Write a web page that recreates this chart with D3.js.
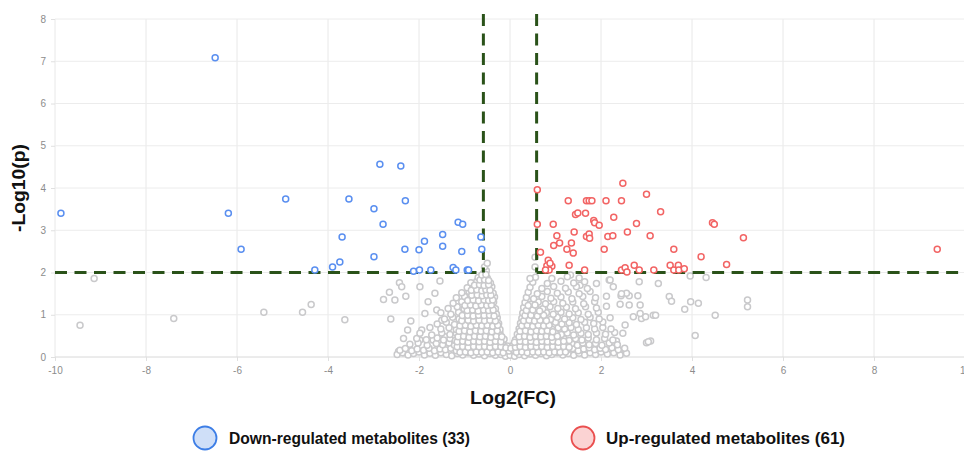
<!DOCTYPE html>
<html>
<head>
<meta charset="UTF-8">
<title>Volcano plot</title>
<script src="https://d3js.org/d3.v7.min.js"></script>
<style>
  body { margin: 0; background: #fff; }
  text { font-family: "Liberation Sans", Arial, sans-serif; }
</style>
</head>
<body>
<svg id="chart"></svg>
<script>
// ---- data ----
const xTicks = [-10, -8, -6, -4, -2, 0, 2, 4, 6, 8, 10];
const yTicks = [0, 1, 2, 3, 4, 5, 6, 7, 8];
const fcCut = 0.585;   // |log2(1.5)|
const pCut = 2;

const legendLabels = ["Down-regulated metabolites (33)", "Up-regulated metabolites (61)"];

// down-regulated (blue)
const downPts = [
  [-9.87,3.40],[-6.48,7.08],[-6.19,3.40],[-5.91,2.55],[-4.93,3.74],[-4.29,2.06],[-3.90,2.13],
  [-3.74,2.25],[-3.69,2.84],[-3.54,3.74],[-2.99,3.51],[-2.86,4.56],[-2.79,3.14],[-2.99,2.37],
  [-2.40,4.52],[-2.30,3.70],[-2.31,2.55],[-2.12,2.03],[-1.99,2.06],[-2.00,2.54],[-1.88,2.74],
  [-1.74,2.06],[-1.48,2.90],[-1.48,2.62],[-1.25,2.12],[-1.19,2.06],[-1.14,3.19],[-1.04,3.14],
  [-1.06,2.50],[-0.94,2.06],[-0.91,2.06],[-0.64,2.84],[-0.62,2.55]
];

// up-regulated (red)
const upPts = [
  [0.60,3.96],[0.60,3.14],[0.67,2.48],[0.84,2.29],[0.81,2.16],[0.92,2.15],[0.86,2.06],[0.78,2.06],
  [0.88,2.22],[0.95,3.14],[1.03,2.87],[0.96,2.64],[1.09,2.70],[1.28,3.70],[1.25,2.55],[1.30,2.17],
  [1.35,2.70],[1.39,2.46],[1.41,2.96],[1.44,3.37],[1.49,3.41],[1.64,2.06],[1.66,3.40],[1.68,3.70],
  [1.74,3.70],[1.80,3.70],[1.68,2.85],[1.74,2.91],[1.75,2.81],[1.84,3.23],[1.86,3.18],[1.96,3.12],
  [2.07,2.55],[2.11,3.70],[2.15,2.85],[2.26,2.87],[2.28,3.31],[2.45,3.70],[2.48,4.11],[2.45,2.06],
  [2.53,2.11],[2.57,2.01],[2.58,2.96],[2.73,2.17],[2.78,3.16],[2.84,2.06],[3.00,3.85],[3.08,2.87],
  [3.16,2.06],[3.31,3.44],[3.52,2.17],[3.60,2.55],[3.60,2.06],[3.70,2.17],[3.71,2.06],[3.83,2.09],
  [4.20,2.37],[4.45,3.18],[4.49,3.14],[4.76,2.19],[5.13,2.82],[9.39,2.55]
];

// not significant (grey)
const nsPts = [
  [-9.45,0.75],[-9.14,1.86],[-7.39,0.91],[-5.41,1.06],[-4.56,1.06],[-4.37,1.24],[-3.63,0.88],
  [-2.78,1.36],[-2.65,1.53],[-2.53,1.35],[-2.43,1.76],[-2.38,1.66],[-2.29,1.44],[-2.62,0.90],
  [-2.18,0.85],[-2.25,0.64],[-2.34,0.44],[-1.98,1.66],[-1.80,1.31],[-1.87,1.03],[-1.94,0.64],
  [-1.98,0.40],[-1.54,1.80],[-1.65,1.51],[-1.61,1.11],[-1.50,0.87],[-1.69,0.40],[-1.43,0.48],
  [-2.45,0.13],[-2.34,0.10],
  [2.18,1.82],[2.27,1.66],[2.84,1.78],[3.26,1.74],[3.50,1.43],[3.55,1.32],[3.84,1.13],[3.97,1.31],
  [4.14,1.27],[3.96,1.92],[4.31,1.88],[4.51,0.99],[4.07,0.51],[5.22,1.35],[5.22,1.19],[2.86,1.23],
  [2.62,1.23],[2.42,1.25],[2.71,0.95],[2.89,0.91],[2.98,0.95],[3.15,0.99],[3.20,0.99],[3.00,0.34],
  [3.09,0.38],[2.86,1.03],[2.53,0.76],[2.48,0.56],[2.34,0.38],[2.40,0.13],[2.62,1.45],[2.44,1.45],
  [2.81,1.45],[2.56,1.51],[1.33,1.94],[1.54,1.70],[1.90,1.74],[2.20,1.82],[2.45,1.50],[3.04,0.36],
  // bottom band
  [-2.48,0.06],[-2.36,0.10],[-2.24,0.05],[-2.12,0.08],[-2.00,0.12],[-1.88,0.05],[-1.76,0.09],[-1.64,0.04],
  [-1.52,0.10],[-1.40,0.06],[-1.28,0.03],[-1.16,0.08],[-1.04,0.05],[-0.92,0.10],[-0.80,0.04],[-0.68,0.07],
  [-0.56,0.03],[-0.44,0.08],[-0.32,0.04],[-0.20,0.06],[-0.10,0.02],[0.00,0.04],[0.10,0.02],[0.20,0.06],
  [0.32,0.03],[0.44,0.07],[0.56,0.04],[0.68,0.08],[0.80,0.03],[0.92,0.06],[1.04,0.10],[1.16,0.05],
  [1.28,0.08],[1.40,0.04],[1.52,0.09],[1.64,0.05],[1.76,0.10],[1.88,0.06],[2.00,0.12],[2.14,0.07],
  [2.28,0.10],[2.42,0.05],[2.56,0.09],
  [-2.42,0.16],[-2.30,0.20],[-2.16,0.15],[-2.04,0.19],[-1.90,0.16],[-1.78,0.21],[-1.66,0.15],[-1.54,0.19],
  [-1.42,0.17],[-1.30,0.21],[-1.18,0.15],[-1.06,0.19],[-0.94,0.16],[-0.82,0.20],[-0.70,0.15],[-0.58,0.19],
  [-0.46,0.16],[-0.34,0.20],[-0.22,0.15],[-0.12,0.18],[-0.02,0.14],[0.08,0.16],[0.18,0.20],[0.30,0.15],
  [0.42,0.19],[0.54,0.16],[0.66,0.20],[0.78,0.15],[0.90,0.19],[1.02,0.16],[1.14,0.21],[1.26,0.17],
  [1.38,0.20],[1.50,0.15],[1.62,0.19],[1.74,0.22],[1.86,0.17],[1.98,0.21],[2.10,0.18],[2.24,0.22],
  [2.38,0.17],[2.52,0.21],
  [-2.20,0.30],[-2.02,0.33],[-1.82,0.28],[-1.62,0.32],[-1.48,0.29],[-1.34,0.33],[-1.22,0.28],[-1.10,0.31],
  [-0.98,0.27],[-0.86,0.32],[-0.74,0.28],[-0.62,0.31],[-0.50,0.27],[-0.38,0.32],[-0.26,0.28],[-0.15,0.30],
  [-0.06,0.26],[0.06,0.27],[0.16,0.31],[0.28,0.27],[0.40,0.32],[0.52,0.28],[0.64,0.31],[0.76,0.27],
  [0.88,0.32],[1.00,0.28],[1.12,0.31],[1.24,0.27],[1.36,0.32],[1.48,0.28],[1.60,0.33],[1.74,0.29],
  [1.88,0.32],[2.02,0.28],[2.18,0.33],[2.36,0.29],
  // middle body
  [-2.05,0.44],[-1.84,0.41],[-1.60,0.45],[-1.46,0.40],[-1.32,0.44],[-1.20,0.39],[-1.08,0.43],[-0.96,0.40],
  [-0.84,0.44],[-0.72,0.39],[-0.60,0.43],[-0.48,0.40],[-0.36,0.44],[-0.24,0.39],[-0.13,0.42],[0.12,0.41],
  [0.22,0.44],[0.34,0.39],[0.46,0.43],[0.58,0.40],[0.70,0.44],[0.82,0.39],[0.94,0.43],[1.06,0.40],
  [1.18,0.44],[1.30,0.39],[1.44,0.43],[1.58,0.40],[1.72,0.45],[1.90,0.41],[2.08,0.44],[2.26,0.40],
  [-1.98,0.56],[-1.72,0.52],[-1.50,0.57],[-1.32,0.53],[-1.18,0.56],[-1.06,0.52],[-0.94,0.57],[-0.82,0.53],
  [-0.70,0.56],[-0.58,0.52],[-0.46,0.57],[-0.34,0.53],[-0.22,0.56],[0.16,0.54],[0.28,0.57],[0.40,0.52],
  [0.52,0.56],[0.64,0.53],[0.76,0.57],[0.88,0.52],[1.00,0.56],[1.13,0.53],[1.26,0.57],[1.40,0.52],
  [1.56,0.56],[1.72,0.53],[1.90,0.57],[2.10,0.54],[2.30,0.58],
  [-1.76,0.70],[-1.52,0.66],[-1.34,0.69],[-1.18,0.65],[-1.04,0.70],[-0.92,0.66],[-0.80,0.69],[-0.68,0.65],
  [-0.56,0.70],[-0.44,0.66],[-0.32,0.69],[-0.22,0.65],[0.20,0.67],[0.32,0.70],[0.44,0.65],[0.56,0.69],
  [0.68,0.66],[0.80,0.70],[0.93,0.65],[1.06,0.69],[1.20,0.66],[1.34,0.70],[1.50,0.65],[1.68,0.69],
  [1.86,0.66],[2.04,0.70],[2.22,0.66],
  [-1.60,0.78],[-1.40,0.82],[-1.22,0.77],[-1.08,0.81],[-0.96,0.78],[-0.84,0.82],[-0.72,0.77],[-0.60,0.81],
  [-0.48,0.78],[-0.36,0.82],[-0.25,0.79],[0.23,0.80],[0.35,0.77],[0.47,0.82],[0.60,0.78],[0.73,0.81],
  [0.86,0.77],[1.00,0.82],[1.14,0.78],[1.30,0.81],[1.46,0.77],[1.64,0.82],[1.84,0.79],[2.04,0.83],
  [-1.44,0.90],[-1.26,0.94],[-1.12,0.90],[-0.99,0.93],[-0.87,0.89],[-0.75,0.94],[-0.63,0.90],[-0.51,0.93],
  [-0.39,0.89],[-0.28,0.93],[0.26,0.92],[0.38,0.89],[0.50,0.94],[0.62,0.90],[0.75,0.93],[0.89,0.89],
  [1.04,0.94],[1.20,0.90],[1.38,0.93],[1.56,0.89],[1.76,0.94],[1.96,0.90],[2.20,0.93],
  [-1.52,1.05],[-1.30,1.01],[-1.13,1.06],[-0.99,1.02],[-0.87,1.06],[-0.75,1.01],[-0.63,1.05],[-0.51,1.02],
  [-0.40,1.06],[-0.30,1.02],[0.28,1.04],[0.40,1.01],[0.53,1.06],[0.66,1.02],[0.80,1.05],[0.95,1.01],
  [1.12,1.06],[1.30,1.02],[1.50,1.05],[1.72,1.01],[1.94,1.06],
  // upper body
  [-1.36,1.15],[-1.16,1.19],[-1.01,1.14],[-0.89,1.18],[-0.77,1.14],[-0.65,1.19],[-0.53,1.15],[-0.42,1.18],
  [-0.32,1.14],[0.30,1.17],[0.43,1.13],[0.57,1.18],[0.72,1.14],[0.88,1.19],[1.05,1.15],[1.24,1.18],
  [1.44,1.14],[1.66,1.19],[1.90,1.16],[2.12,1.20],
  [-1.25,1.27],[-1.06,1.31],[-0.93,1.26],[-0.81,1.30],[-0.69,1.26],[-0.57,1.31],[-0.46,1.27],[-0.36,1.30],
  [0.33,1.29],[0.46,1.25],[0.62,1.30],[0.78,1.26],[0.96,1.31],[1.16,1.27],[1.38,1.30],[1.62,1.26],[1.86,1.31],
  [-1.18,1.40],[-1.00,1.43],[-0.87,1.38],[-0.75,1.42],[-0.63,1.38],[-0.52,1.43],[-0.42,1.39],[-0.34,1.42],
  [0.36,1.41],[0.52,1.38],[0.70,1.43],[0.90,1.39],[1.12,1.42],[1.36,1.38],[1.60,1.43],[1.88,1.40],[2.12,1.44],
  [-1.06,1.52],[-0.90,1.55],[-0.78,1.51],[-0.66,1.55],[-0.56,1.50],[-0.46,1.54],[-0.37,1.51],[0.40,1.53],
  [0.60,1.50],[0.82,1.55],[1.04,1.51],[1.28,1.54],[1.52,1.50],[1.76,1.55],
  [-0.94,1.64],[-0.80,1.67],[-0.68,1.63],[-0.58,1.67],[-0.48,1.62],[-0.40,1.66],[0.44,1.65],[0.70,1.62],
  [0.96,1.67],[1.22,1.63],[1.46,1.66],[1.70,1.62],
  [-0.86,1.76],[-0.73,1.79],[-0.62,1.75],[-0.52,1.79],[-0.43,1.75],[0.50,1.77],[0.82,1.74],[1.12,1.79],
  [1.40,1.75],[1.64,1.78],
  [-0.70,1.88],[-0.60,1.91],[-0.50,1.87],[0.56,1.89],[0.92,1.86],[1.26,1.90],[1.52,1.87],
  [-0.58,1.98],[-0.52,2.04],[-0.56,2.13],[-0.50,2.22],[0.55,2.13],[0.55,2.36],[0.44,1.86],
  // densest core (in between the rows above)
  [-1.10,0.11],[-0.98,0.12],[-0.86,0.10],[-0.74,0.12],[-0.62,0.11],[-0.50,0.12],[-0.38,0.10],[-0.26,0.12],
  [-0.15,0.10],[0.14,0.11],[0.26,0.12],[0.38,0.10],[0.50,0.12],[0.62,0.11],[0.74,0.12],[0.86,0.10],
  [0.98,0.12],[1.10,0.11],[1.22,0.12],
  [-1.16,0.24],[-1.04,0.25],[-0.92,0.23],[-0.80,0.25],[-0.68,0.24],[-0.56,0.25],[-0.44,0.23],[-0.32,0.25],
  [-0.20,0.24],[-0.09,0.22],[0.02,0.21],[0.12,0.23],[0.22,0.25],[0.34,0.23],[0.46,0.25],[0.58,0.24],
  [0.70,0.25],[0.82,0.23],[0.94,0.25],[1.06,0.24],[1.18,0.25],[1.30,0.23],
  [-1.16,0.36],[-1.04,0.37],[-0.92,0.35],[-0.80,0.37],[-0.68,0.36],[-0.56,0.37],[-0.44,0.35],[-0.32,0.37],
  [-0.20,0.36],[0.10,0.35],[0.22,0.37],[0.34,0.36],[0.46,0.37],[0.58,0.35],[0.70,0.37],[0.82,0.36],
  [0.94,0.37],[1.06,0.35],[1.18,0.37],
  [-1.14,0.48],[-1.02,0.49],[-0.90,0.47],[-0.78,0.49],[-0.66,0.48],[-0.54,0.49],[-0.42,0.47],[-0.30,0.49],
  [-0.18,0.48],[0.20,0.48],[0.32,0.49],[0.44,0.47],[0.56,0.49],[0.68,0.48],[0.80,0.49],[0.92,0.47],[1.04,0.49],
  [-1.12,0.61],[-1.00,0.62],[-0.88,0.60],[-0.76,0.62],[-0.64,0.61],[-0.52,0.62],[-0.40,0.60],[-0.28,0.62],
  [0.22,0.61],[0.34,0.62],[0.46,0.60],[0.58,0.62],[0.70,0.61],[0.82,0.62],[0.94,0.60],
  [-1.10,0.74],[-0.98,0.75],[-0.86,0.73],[-0.74,0.75],[-0.62,0.74],[-0.50,0.75],[-0.38,0.73],[-0.27,0.75],
  [0.26,0.74],[0.38,0.75],[0.50,0.73],[0.62,0.75],[0.74,0.74],[0.86,0.75],
  [-1.06,0.86],[-0.92,0.87],[-0.80,0.85],[-0.68,0.87],[-0.56,0.86],[-0.44,0.87],[-0.32,0.85],
  [0.30,0.86],[0.42,0.87],[0.54,0.85],[0.66,0.87],[0.80,0.86],
  [-1.05,0.98],[-0.93,0.99],[-0.81,0.97],[-0.69,0.99],[-0.57,0.98],[-0.45,0.99],[-0.35,0.97],
  [0.33,0.98],[0.46,0.99],[0.60,0.97],[0.74,0.99],
  [-0.94,1.10],[-0.82,1.11],[-0.70,1.09],[-0.58,1.11],[-0.47,1.10],[-0.37,1.11],[0.36,1.10],[0.50,1.11],[0.65,1.09],
  [-0.99,1.22],[-0.87,1.23],[-0.75,1.21],[-0.63,1.23],[-0.51,1.22],[-0.41,1.23],[0.40,1.22],[0.55,1.23],
  [-0.93,1.34],[-0.81,1.35],[-0.69,1.33],[-0.57,1.35],[-0.47,1.34],[-0.38,1.35],
  [-0.84,1.46],[-0.72,1.47],[-0.61,1.45],[-0.51,1.47],[-0.42,1.46],
  [-0.85,1.58],[-0.73,1.59],[-0.62,1.57],[-0.53,1.59],[-0.44,1.58],
  [-0.78,1.70],[-0.67,1.71],[-0.57,1.69],[-0.47,1.71],
  [-0.66,1.82],[-0.56,1.83],[-0.47,1.81],
  [-0.62,1.94],[-0.53,1.95]
];

// ---- layout ----
const W = 964, H = 458;
const svg = d3.select("#chart").attr("width", W).attr("height", H);

const x = d3.scaleLinear().domain([-10, 10]).range([55, 965]);
const y = d3.scaleLinear().domain([0, 8]).range([357, 19]);

// grid
svg.append("g").selectAll("line").data(xTicks).join("line")
  .attr("x1", d => x(d)).attr("x2", d => x(d))
  .attr("y1", y(8)).attr("y2", y(0))
  .attr("stroke", "#e8e8e8").attr("stroke-width", 1);
svg.append("g").selectAll("line").data(yTicks).join("line")
  .attr("x1", x(-10)).attr("x2", x(10))
  .attr("y1", d => y(d)).attr("y2", d => y(d))
  .attr("stroke", d => d === 0 ? "#d8d8d8" : "#ececec").attr("stroke-width", 1);

// axes (labels only, light ticks); plain hyphen for negatives like the source
const xAxis = svg.append("g")
  .attr("transform", `translate(0, ${y(0)})`)
  .call(d3.axisBottom(x).tickValues(xTicks).tickFormat(d => String(d)).tickSize(4).tickPadding(6));
const yAxis = svg.append("g")
  .attr("transform", `translate(${x(-10)}, 0)`)
  .call(d3.axisLeft(y).tickValues(yTicks).tickFormat(d => String(d)).tickSize(4).tickPadding(5));
[xAxis, yAxis].forEach(a => {
  a.select(".domain").remove();
  a.selectAll(".tick line").attr("stroke", "#e0e0e0");
  a.selectAll(".tick text").attr("fill", "#8c8c8c").attr("font-size", "10px")
    .attr("font-family", "Liberation Sans, Arial, sans-serif");
});

const dot = (g, data, color) => g.selectAll("circle").data(data).join("circle")
  .attr("cx", d => x(d[0])).attr("cy", d => y(d[1]))
  .attr("r", 3).attr("fill", "#fff")
  .attr("stroke", color).attr("stroke-width", 1.5);

dot(svg.append("g"), nsPts, "#c9c9cb");

// threshold lines
const thr = svg.append("g").attr("stroke", "#2a5219").attr("stroke-width", 3)
  .attr("stroke-dasharray", "12,7.5").attr("fill", "none");
thr.append("line").attr("x1", x(-10)).attr("x2", x(-fcCut)).attr("y1", y(pCut)).attr("y2", y(pCut));
thr.append("line").attr("x1", x(fcCut)).attr("x2", x(10)).attr("y1", y(pCut)).attr("y2", y(pCut));
thr.append("line").attr("x1", x(-fcCut)).attr("x2", x(-fcCut)).attr("y1", y(8.12)).attr("y2", y(pCut));
thr.append("line").attr("x1", x(fcCut)).attr("x2", x(fcCut)).attr("y1", y(8.12)).attr("y2", y(pCut));

dot(svg.append("g"), downPts, "#5a8ff0");
dot(svg.append("g"), upPts, "#f26464");

// axis titles
svg.append("text")
  .attr("x", 513).attr("y", 404)
  .attr("text-anchor", "middle")
  .attr("font-size", "19px").attr("font-weight", "bold").attr("fill", "#111")
  .attr("textLength", 86).attr("lengthAdjust", "spacingAndGlyphs")
  .text("Log2(FC)");

svg.append("text")
  .attr("transform", `translate(25, 188) rotate(-90)`)
  .attr("text-anchor", "middle")
  .attr("font-size", "19px").attr("font-weight", "bold").attr("fill", "#111")
  .attr("textLength", 88).attr("lengthAdjust", "spacingAndGlyphs")
  .text("-Log10(p)");

// legend
const legendItems = [
  { label: legendLabels[0], cx: 205, fill: "#cfdff8", stroke: "#3d7ee6", tx: 229, tl: 241 },
  { label: legendLabels[1], cx: 583, fill: "#fbd3d3", stroke: "#ea4f4f", tx: 606, tl: 239 }
];
const lg = svg.append("g");
lg.selectAll("circle").data(legendItems).join("circle")
  .attr("cx", d => d.cx).attr("cy", 438).attr("r", 11.5)
  .attr("fill", d => d.fill).attr("stroke", d => d.stroke).attr("stroke-width", 1.8);
lg.selectAll("text").data(legendItems).join("text")
  .attr("x", d => d.tx).attr("y", 444)
  .attr("font-size", "16px").attr("font-weight", "bold").attr("fill", "#111")
  .attr("textLength", d => d.tl).attr("lengthAdjust", "spacingAndGlyphs")
  .text(d => d.label);
</script>
</body>
</html>
